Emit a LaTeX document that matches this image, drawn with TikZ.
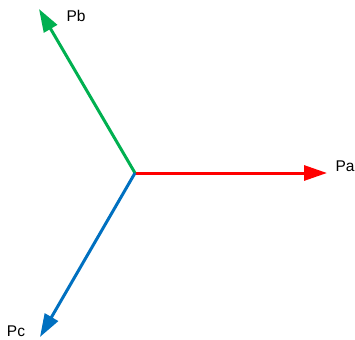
\documentclass[tikz,border=0pt]{standalone}
\usepackage{fontspec}
\setmainfont{Liberation Sans}
\usetikzlibrary{arrows.meta}
\definecolor{pared}{RGB}{255,0,0}
\definecolor{pbgreen}{RGB}{0,176,80}
\definecolor{pcblue}{RGB}{0,112,192}
\tikzset{
  phasor/.style={line width=3pt,-{Triangle[length=23pt,width=15pt]}},
  lbl/.style={font=\fontsize{15.5pt}{18pt}\selectfont,inner sep=0pt}
}
\begin{document}
\begin{tikzpicture}[x=1pt,y=-1pt]
\useasboundingbox (0,0) rectangle (355,339);
\coordinate (o) at (135,173);
\coordinate (a) at (327,173);
\coordinate (b) at (39,9);
\coordinate (c) at (40,337);
\draw[phasor,pared] (o) -- (a);
\draw[phasor,pbgreen] (o) -- (b);
\draw[phasor,pcblue] (o) -- (c);
\node[lbl] (pa) at (345,166.5) {Pa};
\node[lbl] (pb) at (76,15.5) {Pb};
\node[lbl] (pc) at (16,331.5) {Pc};
\end{tikzpicture}
\end{document}
